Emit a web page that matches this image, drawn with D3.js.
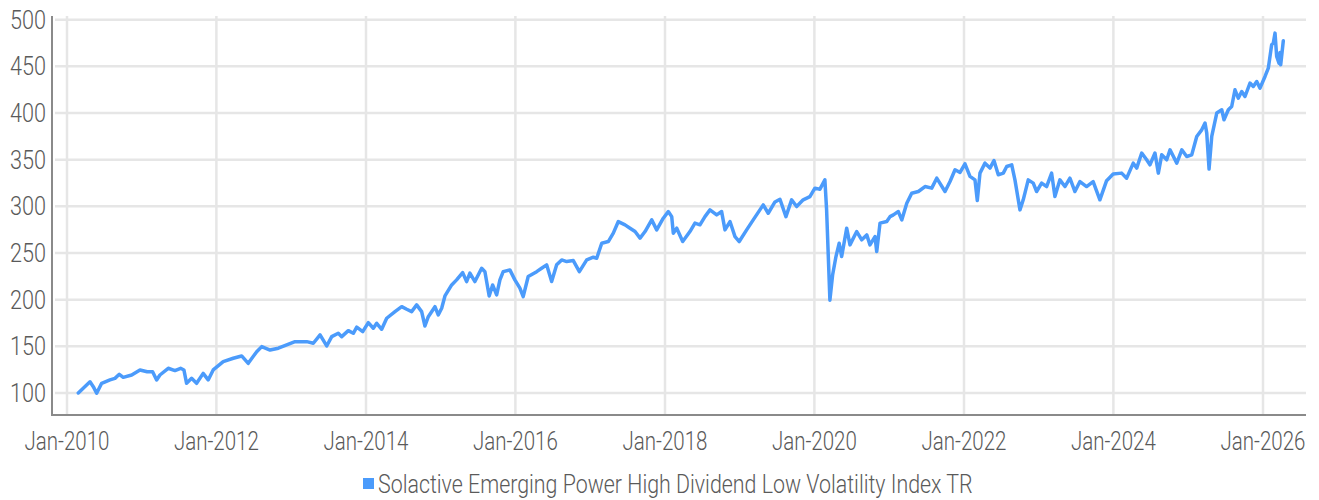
<!DOCTYPE html>
<html>
<head>
<meta charset="utf-8">
<script src="https://cdn.jsdelivr.net/npm/d3@7"></script>
<style>
  html, body { margin: 0; padding: 0; background: #fff; }
  svg text { font-family: Roboto, "DejaVu Sans", sans-serif; font-weight: 300; }
</style>
</head>
<body>
<svg id="chart" width="1319" height="500"></svg>
<script>
// ---- data (decimal years, index values) ----
const seriesName = "Solactive Emerging Power High Dividend Low Volatility Index TR";
const times = [
  2010.151, 2010.308, 2010.352, 2010.397, 2010.464, 2010.575, 2010.642, 2010.700, 2010.753, 2010.866,
  2010.977, 2011.074, 2011.146, 2011.200, 2011.244, 2011.355, 2011.445, 2011.521, 2011.565, 2011.601,
  2011.668, 2011.735, 2011.823, 2011.890, 2011.957, 2012.091, 2012.225, 2012.337, 2012.425, 2012.538,
  2012.605, 2012.716, 2012.827, 2013.050, 2013.207, 2013.295, 2013.385, 2013.474, 2013.541, 2013.629,
  2013.675, 2013.763, 2013.830, 2013.876, 2013.956, 2014.031, 2014.098, 2014.143, 2014.210, 2014.277,
  2014.388, 2014.478, 2014.545, 2014.611, 2014.678, 2014.745, 2014.789, 2014.834, 2014.923, 2014.967,
  2015.013, 2015.057, 2015.147, 2015.213, 2015.294, 2015.347, 2015.391, 2015.458, 2015.548, 2015.592,
  2015.649, 2015.695, 2015.749, 2015.793, 2015.837, 2015.926, 2015.993, 2016.060, 2016.104, 2016.171,
  2016.284, 2016.350, 2016.417, 2016.484, 2016.551, 2016.618, 2016.685, 2016.773, 2016.854, 2016.952,
  2017.041, 2017.086, 2017.153, 2017.241, 2017.308, 2017.375, 2017.465, 2017.532, 2017.599, 2017.666,
  2017.733, 2017.822, 2017.889, 2017.977, 2018.044, 2018.090, 2018.111, 2018.157, 2018.237, 2018.334,
  2018.401, 2018.468, 2018.535, 2018.602, 2018.692, 2018.758, 2018.803, 2018.870, 2018.937, 2018.994,
  2019.093, 2019.181, 2019.315, 2019.382, 2019.472, 2019.539, 2019.619, 2019.695, 2019.762, 2019.850,
  2019.940, 2020.007, 2020.074, 2020.140, 2020.163, 2020.207, 2020.243, 2020.288, 2020.331, 2020.364,
  2020.431, 2020.475, 2020.565, 2020.632, 2020.699, 2020.742, 2020.809, 2020.832, 2020.876, 2020.966,
  2021.010, 2021.054, 2021.121, 2021.167, 2021.234, 2021.300, 2021.389, 2021.478, 2021.568, 2021.635,
  2021.746, 2021.813, 2021.880, 2021.947, 2022.013, 2022.080, 2022.147, 2022.178, 2022.214, 2022.281,
  2022.348, 2022.401, 2022.459, 2022.526, 2022.572, 2022.639, 2022.682, 2022.749, 2022.793, 2022.860,
  2022.927, 2022.972, 2023.039, 2023.106, 2023.173, 2023.217, 2023.284, 2023.351, 2023.418, 2023.485,
  2023.552, 2023.641, 2023.729, 2023.819, 2023.909, 2023.997, 2024.110, 2024.177, 2024.265, 2024.311,
  2024.378, 2024.444, 2024.488, 2024.555, 2024.600, 2024.645, 2024.712, 2024.756, 2024.846, 2024.913,
  2024.979, 2025.046, 2025.113, 2025.180, 2025.224, 2025.247, 2025.278, 2025.314, 2025.381, 2025.448,
  2025.478, 2025.536, 2025.581, 2025.625, 2025.669, 2025.715, 2025.759, 2025.826, 2025.870, 2025.916,
  2025.960, 2026.027, 2026.071, 2026.116, 2026.138, 2026.161, 2026.183, 2026.214, 2026.227, 2026.237,
  2026.272
];
const values = [
  100.0, 112.0, 106.8, 99.7, 110.4, 114.0, 115.7, 120.0, 116.8, 119.3,
  124.7, 122.8, 122.8, 114.0, 119.3, 126.5, 124.0, 126.5, 124.7, 110.4,
  115.7, 110.4, 121.0, 114.0, 124.7, 133.6, 137.2, 139.7, 131.8, 144.3,
  149.7, 146.0, 148.0, 155.0, 155.0, 153.3, 162.2, 150.4, 160.4, 164.0,
  160.4, 166.8, 164.0, 170.5, 165.8, 175.4, 169.4, 174.7, 168.3, 180.1,
  187.2, 192.5, 189.7, 187.2, 194.4, 187.2, 171.8, 181.8, 192.5, 183.6,
  190.8, 204.0, 215.8, 221.2, 229.0, 219.4, 228.4, 219.4, 233.7, 230.0,
  204.0, 215.8, 205.1, 221.2, 230.0, 231.9, 221.2, 212.3, 203.3, 224.8,
  230.0, 233.7, 237.3, 219.4, 237.3, 242.6, 240.8, 241.9, 230.0, 242.6,
  245.5, 244.4, 260.5, 262.3, 271.3, 283.7, 280.2, 276.6, 273.0, 265.9,
  273.0, 285.5, 274.8, 287.3, 294.4, 289.0, 271.3, 276.6, 262.3, 273.0,
  282.0, 280.2, 289.0, 296.2, 290.9, 294.4, 274.8, 283.7, 267.6, 262.3,
  274.8, 285.5, 301.6, 292.6, 304.7, 307.6, 289.0, 307.0, 299.8, 307.0,
  310.5, 319.5, 318.4, 328.4, 296.2, 199.5, 226.5, 246.2, 260.5, 246.2,
  276.6, 258.7, 273.0, 264.1, 269.4, 258.7, 267.6, 251.5, 282.0, 283.7,
  289.0, 290.9, 294.4, 285.5, 303.4, 314.1, 315.9, 321.2, 319.5, 330.2,
  315.9, 326.6, 339.2, 336.3, 345.6, 332.1, 328.4, 306.2, 335.6, 346.3,
  341.0, 349.1, 333.8, 335.6, 342.7, 344.5, 328.4, 296.2, 307.0, 328.4,
  324.9, 315.9, 324.9, 321.2, 335.6, 310.5, 328.4, 321.2, 330.2, 315.9,
  326.6, 321.2, 326.6, 307.0, 327.5, 334.7, 335.6, 330.2, 346.3, 341.0,
  357.1, 349.9, 344.5, 357.1, 335.6, 355.2, 349.9, 360.6, 346.3, 360.6,
  353.4, 355.2, 374.9, 382.0, 389.3, 378.5, 339.9, 374.9, 400.0, 403.5,
  392.8, 403.5, 407.0, 424.9, 416.0, 423.1, 417.7, 432.1, 428.5, 433.8,
  426.7, 439.2, 448.1, 473.1, 474.9, 485.6, 460.6, 453.4, 464.8, 451.7,
  477.4
];
const yTicks = [100, 150, 200, 250, 300, 350, 400, 450, 500];
const xTickYears = [2010, 2012, 2014, 2016, 2018, 2020, 2022, 2024, 2026];

// ---- helpers ----
function decToDate(t) {
  const y = Math.floor(t);
  const start = Date.UTC(y, 0, 1), end = Date.UTC(y + 1, 0, 1);
  return new Date(start + (t - y) * (end - start));
}
const data = times.map((t, i) => ({ date: decToDate(t), value: values[i] }));

const svg = d3.select("#chart");
const x = d3.scaleUtc()
  .domain([new Date(Date.UTC(2010, 0, 1)), new Date(Date.UTC(2026, 0, 1))])
  .range([67, 1263]);
const y = d3.scaleLinear().domain([100, 500]).range([393, 19.7]);

const plotLeft = 55, plotRight = 1306, plotTop = 16, plotBottom = 415;
const gridColor = "#e6e6e6";
const textColor = "#5a5a5a";
const lineColor = "#4b9bfb";
const fs = 25;

function widthOf(str, size) {
  const t = svg.append("text").attr("font-size", size).text(str);
  const w = t.node().getComputedTextLength();
  t.remove();
  return w;
}

// horizontal grid
svg.append("g").selectAll("line").data(yTicks).join("line")
  .attr("x1", plotLeft).attr("x2", plotRight)
  .attr("y1", d => y(d)).attr("y2", d => y(d))
  .attr("stroke", gridColor).attr("stroke-width", 2.5);

// vertical grid
const xTickDates = xTickYears.map(yr => new Date(Date.UTC(yr, 0, 1)));
svg.append("g").selectAll("line").data(xTickDates).join("line")
  .attr("x1", d => x(d)).attr("x2", d => x(d))
  .attr("y1", plotTop).attr("y2", plotBottom)
  .attr("stroke", gridColor).attr("stroke-width", 2.5);

// axes lines
svg.append("line").attr("x1", 52).attr("x2", 52).attr("y1", plotTop).attr("y2", plotBottom + 1)
  .attr("stroke", "#8a8a8a").attr("stroke-width", 2);
svg.append("line").attr("x1", 52).attr("x2", plotRight).attr("y1", plotBottom).attr("y2", plotBottom)
  .attr("stroke", "#8a8a8a").attr("stroke-width", 2);

// y tick labels (horizontally condensed via transform)
const ry = 36 / widthOf("500", fs);
svg.append("g").selectAll("text").data(yTicks).join("text")
  .attr("transform", d => `translate(46,${y(d) + 9}) scale(${ry},1)`)
  .attr("text-anchor", "end")
  .attr("font-size", fs).attr("fill", textColor)
  .text(d => d);

// x tick labels
const fmt = d3.utcFormat("%b-%Y");
const rx = 85 / widthOf("Jan-2010", fs);
svg.append("g").selectAll("text").data(xTickDates).join("text")
  .attr("transform", d => `translate(${x(d)},450) scale(${rx},1)`)
  .attr("text-anchor", "middle")
  .attr("font-size", fs).attr("fill", textColor)
  .text(d => fmt(d));

// line
const line = d3.line().x(d => x(d.date)).y(d => y(d.value));
svg.append("path").datum(data)
  .attr("d", line)
  .attr("fill", "none")
  .attr("stroke", lineColor)
  .attr("stroke-width", 3.5)
  .attr("stroke-linejoin", "round")
  .attr("stroke-linecap", "round");

// legend
const lg = svg.append("g");
lg.append("rect").attr("x", 363).attr("y", 478).attr("width", 11).attr("height", 11).attr("fill", lineColor);
const rl = 595 / widthOf(seriesName, fs);
lg.append("text")
  .attr("transform", `translate(378,493) scale(${rl},1)`)
  .attr("font-size", fs).attr("fill", textColor)
  .text(seriesName);
</script>
</body>
</html>
